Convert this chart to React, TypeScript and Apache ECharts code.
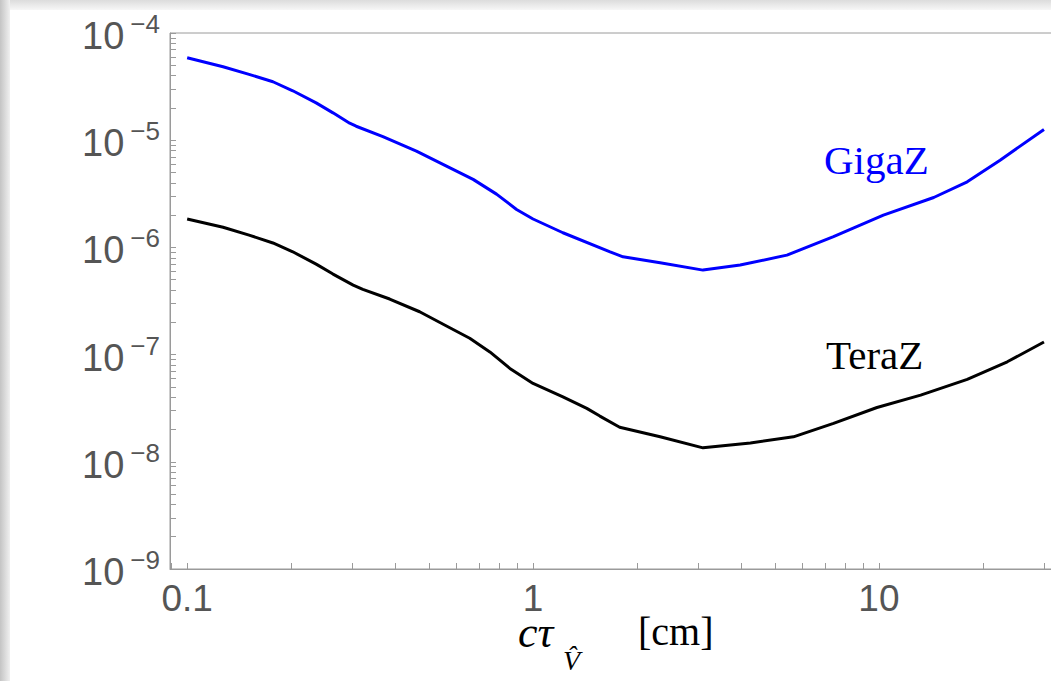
import React, { useEffect, useRef } from 'react';
import * as echarts from 'echarts';

// GigaZ curve (blue)
const gigaX = [0.1, 0.127, 0.151, 0.177, 0.202, 0.236, 0.264, 0.295, 0.308, 0.368, 0.46, 0.562, 0.671, 0.784, 0.896, 1.0, 1.22, 1.67, 1.82, 2.33, 3.1, 3.97, 5.42, 7.39, 10.3, 14.4, 18.0, 22.4, 30];
const gigaY = [5.87e-5, 4.84e-5, 4.11e-5, 3.51e-5, 2.89e-5, 2.23e-5, 1.8e-5, 1.44e-5, 1.35e-5, 1.08e-5, 7.9e-6, 5.73e-6, 4.31e-6, 3.14e-6, 2.26e-6, 1.84e-6, 1.37e-6, 9.1e-7, 8.17e-7, 7.18e-7, 6.14e-7, 6.84e-7, 8.47e-7, 1.26e-6, 2.0e-6, 2.92e-6, 4.09e-6, 6.51e-6, 1.26e-5];

// TeraZ curve (black)
const teraX = [0.1, 0.127, 0.151, 0.177, 0.202, 0.236, 0.264, 0.302, 0.322, 0.385, 0.47, 0.562, 0.656, 0.75, 0.857, 1.0, 1.22, 1.43, 1.56, 1.78, 2.33, 3.1, 4.25, 5.66, 7.39, 9.87, 13.2, 18.0, 23.5, 30];
const teraY = [1.84e-6, 1.54e-6, 1.3e-6, 1.1e-6, 9.1e-7, 6.98e-7, 5.64e-7, 4.45e-7, 4.06e-7, 3.3e-7, 2.51e-7, 1.85e-7, 1.42e-7, 1.06e-7, 7.43e-8, 5.38e-8, 4.03e-8, 3.15e-8, 2.67e-8, 2.1e-8, 1.71e-8, 1.35e-8, 1.5e-8, 1.71e-8, 2.28e-8, 3.21e-8, 4.19e-8, 5.87e-8, 8.57e-8, 1.31e-7];

// Tick labels
const xLabelValues = [0.1, 1, 10];
const xTickLabels = ['0.1', '1', '10'];
const yTickExponents = [-9, -8, -7, -6, -5, -4];

// Tick marks (log minor ticks)
const xTickValues = [0.09, 0.1, 0.2, 0.3, 0.4, 0.5, 0.6, 0.7, 0.8, 0.9, 1, 2, 3, 4, 5, 6, 7, 8, 9, 10, 20, 30];
const yTickMantissas = [1, 2, 3, 4, 5, 6, 7, 8, 9];

const X_MIN = 0.0892;
const X_MAX = 33.6;
const Y_MIN = 1e-9;
const Y_MAX = 1e-4;

const AXIS_GRAY = '#9a9a9a';
const LABEL_GRAY = '#555555';

function buildYTicks(): number[] {
  const out: number[] = [];
  for (let i = 0; i < yTickExponents.length - 1; i++) {
    for (const m of yTickMantissas) {
      out.push(Number((m * Math.pow(10, yTickExponents[i])).toPrecision(6)));
    }
  }
  out.push(Number(Math.pow(10, yTickExponents[yTickExponents.length - 1]).toPrecision(6)));
  return out;
}

export default function App() {
  const ref = useRef<HTMLDivElement>(null);

  useEffect(() => {
    if (!ref.current) return;
    const chart = echarts.init(ref.current, null, { renderer: 'svg' });

    const yLabelValues = yTickExponents.map((e) => Number(Math.pow(10, e).toPrecision(6)));

    const option: any = {
      animation: false,
      backgroundColor: '#ffffff',
      grid: {
        left: 170,
        right: -10,
        top: 33,
        bottom: 112,
        show: true,
        borderColor: AXIS_GRAY,
        borderWidth: 1,
        backgroundColor: 'transparent',
        containLabel: false,
        outerBoundsMode: 'none',
      },
      xAxis: {
        type: 'log',
        logBase: 10,
        min: X_MIN,
        max: X_MAX,
        axisLine: { show: true, lineStyle: { color: AXIS_GRAY, width: 1 } },
        axisTick: {
          show: true,
          inside: true,
          length: 6,
          lineStyle: { color: AXIS_GRAY, width: 1 },
          customValues: xTickValues,
        },
        minorTick: { show: false },
        splitLine: { show: false },
        axisLabel: {
          customValues: xLabelValues,
          color: LABEL_GRAY,
          fontFamily: 'Liberation Sans',
          fontSize: 37,
          lineHeight: 28,
          margin: 15,
          formatter: (v: number) => {
            for (let i = 0; i < xLabelValues.length; i++) {
              if (Math.abs(Math.log10(v) - Math.log10(xLabelValues[i])) < 1e-6) return xTickLabels[i];
            }
            return '';
          },
        },
      },
      yAxis: {
        type: 'log',
        logBase: 10,
        min: Y_MIN,
        max: Y_MAX,
        axisLine: { show: true, lineStyle: { color: AXIS_GRAY, width: 1 } },
        axisTick: {
          show: true,
          inside: true,
          length: 6,
          lineStyle: { color: AXIS_GRAY, width: 1 },
          customValues: buildYTicks(),
        },
        minorTick: { show: false },
        splitLine: { show: false },
        axisLabel: {
          customValues: yLabelValues,
          margin: 10,
          formatter: (v: number) => {
            const e = Math.round(Math.log10(v));
            return '{b|10}{s|\u2212' + Math.abs(e) + '}';
          },
          rich: {
            b: {
              fontFamily: 'Liberation Sans',
              fontSize: 38,
              color: LABEL_GRAY,
              lineHeight: 44,
              verticalAlign: 'bottom',
            },
            s: {
              fontFamily: 'Liberation Sans',
              fontSize: 26,
              color: LABEL_GRAY,
              verticalAlign: 'top',
              padding: [0, 0, 0, 6],
            },
          },
        },
      },
      series: [
        {
          name: 'GigaZ',
          type: 'line',
          data: gigaX.map((x, i) => [x, gigaY[i]]),
          showSymbol: false,
          symbol: 'none',
          smooth: false,
          lineStyle: { color: '#0000ff', width: 3 },
          z: 3,
        },
        {
          name: 'TeraZ',
          type: 'line',
          data: teraX.map((x, i) => [x, teraY[i]]),
          showSymbol: false,
          symbol: 'none',
          smooth: false,
          lineStyle: { color: '#000000', width: 3 },
          z: 3,
        },
      ],
      graphic: [
        // screenshot shadow strips
        {
          type: 'rect',
          silent: true,
          shape: { x: 0, y: 0, width: 1051, height: 10 },
          style: {
            fill: new echarts.graphic.LinearGradient(0, 0, 0, 1, [
              { offset: 0, color: '#dcdcdc' },
              { offset: 1, color: '#f7f7f7' },
            ]),
          },
          z: 0,
        },
        {
          type: 'rect',
          silent: true,
          shape: { x: 0, y: 0, width: 10, height: 681 },
          style: {
            fill: new echarts.graphic.LinearGradient(0, 0, 1, 0, [
              { offset: 0, color: '#c4c4c4' },
              { offset: 1, color: '#f0f0f0' },
            ]),
          },
          z: 0,
        },
        {
          type: 'text',
          style: {
            text: 'GigaZ',
            x: 824,
            y: 160,
            fill: '#0000ff',
            font: '41px "Liberation Serif"',
            textAlign: 'left',
            textVerticalAlign: 'middle',
          },
          z: 5,
        },
        {
          type: 'text',
          style: {
            text: 'TeraZ',
            x: 826,
            y: 355,
            fill: '#000000',
            font: '41px "Liberation Serif"',
            textAlign: 'left',
            textVerticalAlign: 'middle',
          },
          z: 5,
        },
        {
          type: 'text',
          style: {
            text: 'c\u03c4',
            x: 518,
            y: 632,
            fill: '#000000',
            font: 'italic 44px "Liberation Serif"',
            lineHeight: 30,
            textAlign: 'left',
            textVerticalAlign: 'middle',
          },
          z: 5,
        },
        {
          type: 'text',
          style: {
            text: 'V\u0302',
            x: 563,
            y: 660,
            fill: '#000000',
            font: 'italic 28px "Liberation Serif"',
            textAlign: 'left',
            textVerticalAlign: 'middle',
          },
          z: 5,
        },
        {
          type: 'text',
          style: {
            text: '[cm]',
            x: 638,
            y: 631,
            fill: '#000000',
            font: '40px "Liberation Serif"',
            lineHeight: 30,
            textAlign: 'left',
            textVerticalAlign: 'middle',
          },
          z: 5,
        },
      ],
    };

    chart.setOption(option);
    return () => chart.dispose();
  }, []);

  return (
    <div
      ref={ref}
      style={{ position: 'fixed', left: 0, top: 0, width: 1051, height: 681, background: '#ffffff' }}
    />
  );
}
